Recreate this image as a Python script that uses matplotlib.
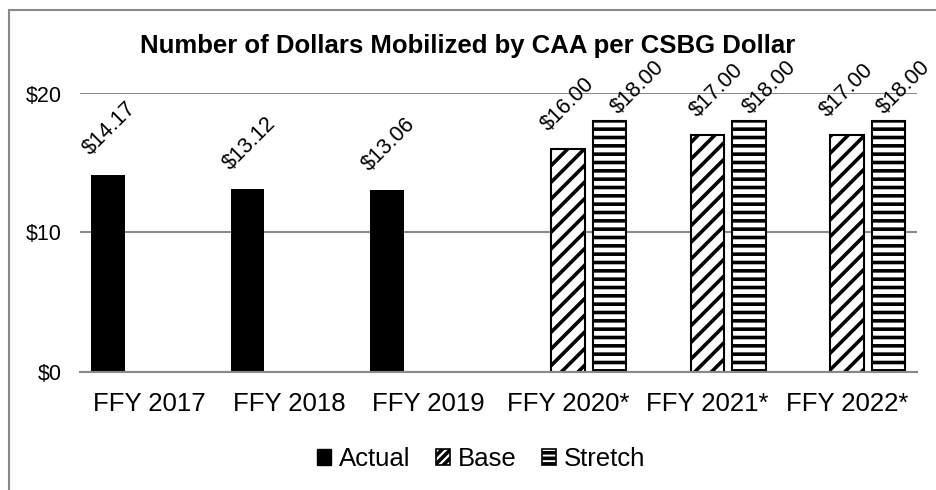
import matplotlib
matplotlib.use("Agg")
import matplotlib.pyplot as plt
from matplotlib.patches import Rectangle, Patch
import numpy as np

categories = ["FFY 2017", "FFY 2018", "FFY 2019", "FFY 2020*", "FFY 2021*", "FFY 2022*"]
actual = [14.17, 13.12, 13.06, None, None, None]
base = [None, None, None, 16.00, 17.00, 17.00]
stretch = [None, None, None, 18.00, 18.00, 18.00]
yticks = [0, 10, 20]
ytick_labels = ["$0", "$10", "$20"]
title = "Number of Dollars Mobilized by CAA per CSBG Dollar"

plt.rcParams['font.family'] = ['Liberation Sans', 'DejaVu Sans']
plt.rcParams['hatch.linewidth'] = 2.6

W, H = 936, 490
fig = plt.figure(figsize=(W / 100, H / 100), dpi=100)
ax = fig.add_axes([79.5 / W, 1 - 371.5 / H, (917 - 79.5) / W, (371.5 - 93.5) / H])

x = np.arange(len(categories))
bw = 0.24
off = 0.297

def draw(vals, shift, **kw):
    xs = [xi + shift for xi, v in zip(x, vals) if v is not None]
    vs = [v for v in vals if v is not None]
    bars = ax.bar(xs, vs, bw, **kw)
    return xs, vs, bars

ax_xs, ax_vs, _ = draw(actual, -off, color='black', edgecolor='black', linewidth=0, zorder=3)
b_xs, b_vs, _ = draw(base, 0, facecolor='white', edgecolor='black', hatch='//', linewidth=1.5, zorder=3)
s_xs, s_vs, _ = draw(stretch, off, facecolor='white', edgecolor='black', hatch='--', linewidth=1.5, zorder=3)

def labels(xs, vs, dx, dy):
    for i, (xx, vv) in enumerate(zip(xs, vs)):
        ddx = dx[i] if isinstance(dx, list) else dx
        ddy = dy[i] if isinstance(dy, list) else dy
        ax.annotate(f"${vv:.2f}", xy=(xx, vv), xytext=(ddx, ddy), textcoords='offset pixels',
                    ha='center', va='center', rotation=45, rotation_mode='anchor',
                    fontsize=15.5, color='black', annotation_clip=False)

labels(ax_xs, ax_vs, 2, 46)
labels(b_xs, b_vs, [0, 9, 0], 45)
labels(s_xs, s_vs, [28, 21, 15], 34)

ax.set_xlim(-0.5, len(categories) - 0.5)
ax.set_ylim(0, 20)
ax.set_yticks(yticks)
ax.set_yticklabels(ytick_labels, fontsize=15.5)
ax.set_xticks(x)
ax.set_xticklabels(categories, fontsize=18.5)
ax.tick_params(axis='both', length=0)
ax.tick_params(axis='y', pad=13)
ax.tick_params(axis='x', pad=15)
for s in ['top', 'right', 'left']:
    ax.spines[s].set_visible(False)
ax.spines['bottom'].set_color('#898989')
ax.spines['bottom'].set_linewidth(1.5)
ax.spines['bottom'].set_zorder(4)
ax.yaxis.grid(True, color='#898989', linewidth=1.5, zorder=0)
ax.set_axisbelow(True)

fig.text(0.5, 1 - 46 / H, title, ha='center', va='center', fontsize=18.5, fontweight='bold')

handles = [Patch(facecolor='black', edgecolor='black'),
           Patch(facecolor='white', edgecolor='black', hatch='////', linewidth=1.2),
           Patch(facecolor='white', edgecolor='black', hatch='---', linewidth=1.2)]
fig.legend(handles, ["Actual", "Base", "Stretch"], loc='center', bbox_to_anchor=(481 / W, 1 - 459 / H),
           ncol=3, frameon=False, fontsize=18.5, handlelength=0.55, handleheight=0.55,
           handletextpad=0.3, columnspacing=1.0)

fig.add_artist(Rectangle((8.5 / W, -0.2), 1.5, 1.2 - 10.5 / H, transform=fig.transFigure,
                         fill=False, edgecolor='#898989', linewidth=1.5))

fig.savefig("out.png", dpi=100)
